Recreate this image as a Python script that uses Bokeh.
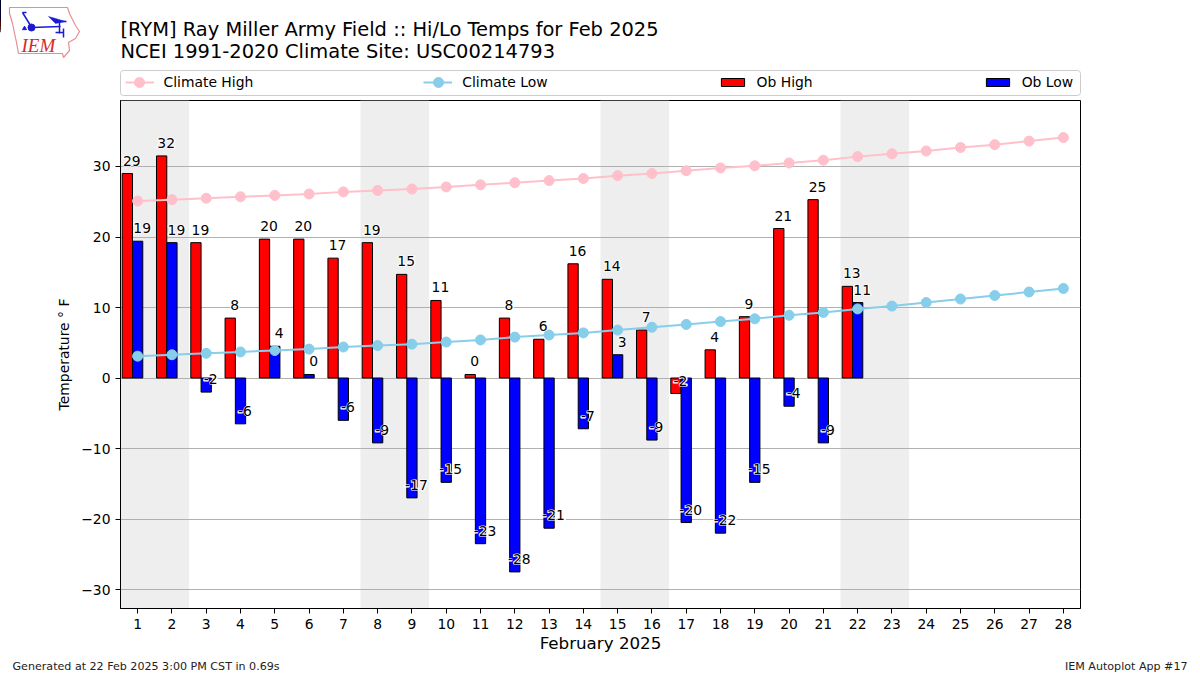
from bokeh.plotting import figure
from bokeh.models import (BoxAnnotation, ColumnDataSource, Label, Legend, LegendItem, FixedTicker, Range1d)
from bokeh.core.properties import value
from bokeh.embed import file_html
from bokeh.resources import INLINE

days = list(range(1, 29))
ob_days = list(range(1, 23))
ob_high = [29, 31.5, 19.2, 8.5, 19.7, 19.7, 17, 19.2, 14.7, 11, 0.5, 8.5, 5.5, 16.2, 14, 6.8, -2.2, 4, 8.7, 21.2, 25.3, 13]
ob_low = [19.4, 19.2, -2, -6.5, 4.5, 0.5, -6, -9.2, -17, -14.8, -23.5, -27.5, -21.3, -7.2, 3.3, -8.8, -20.5, -22, -14.8, -4, -9.2, 10.7]
high_labels = ["29", "32", "19", "8", "20", "20", "17", "19", "15", "11", "0", "8", "6", "16", "14", "7", "-2", "4", "9", "21", "25", "13"]
low_labels = ["19", "19", "-2", "-6", "4", "0", "-6", "-9", "-17", "-15", "-23", "-28", "-21", "-7", "3", "-9", "-20", "-22", "-15", "-4", "-9", "11"]
clim_high = [25.1, 25.3, 25.5, 25.7, 25.9, 26.1, 26.4, 26.6, 26.8, 27.1, 27.4, 27.7, 28.0, 28.3, 28.7, 29.0, 29.4, 29.8, 30.1, 30.5, 30.9, 31.4, 31.8, 32.2, 32.7, 33.1, 33.6, 34.1]
clim_low = [3.1, 3.3, 3.5, 3.7, 3.9, 4.1, 4.4, 4.6, 4.8, 5.1, 5.4, 5.8, 6.1, 6.4, 6.8, 7.2, 7.6, 8.0, 8.4, 8.9, 9.3, 9.8, 10.2, 10.7, 11.2, 11.7, 12.2, 12.7]
weekend_starts = [1, 8, 15, 22]
y_ticks = [-30, -20, -10, 0, 10, 20, 30]
title_lines = ["[RYM] Ray Miller Army Field :: Hi/Lo Temps for Feb 2025", "NCEI 1991-2020 Climate Site: USC00214793"]
x_title = "February 2025"
y_title = "Temperature ° F"
footer_left = "Generated at 22 Feb 2025 3:00 PM CST in 0.69s"
footer_right = "IEM Autoplot App #17"

FONT = "DejaVu Sans"
W, H = 1200, 675
L, T = 120, 100
FW, FH = 960, 508
YMIN, YMAX = -32.69, 39.36

# full-page backdrop: page furniture in pixel coordinates
bg = figure(width=W, height=H, output_backend="svg", toolbar_location=None,
            x_range=Range1d(0, W), y_range=Range1d(H, 0),
            min_border=0, x_axis_location=None, y_axis_location=None, outline_line_color=None)
bg.grid.visible = False


def label(text, x, y, size, align="left", color="black", font=FONT, style="normal"):
    bg.add_layout(Label(x=x, y=y, text=text, text_font=font, text_font_size=size,
                        text_align=align, text_baseline="alphabetic", text_color=color,
                        text_font_style=style))


label(title_lines[0], 120, 29, "19.45px")
label(title_lines[1], 120, 51, "19.45px")
label(footer_left, 12, 666, "11.1px", color="#222222")
label(footer_right, 1187, 666, "11.1px", align="right", color="#222222")

# logo
bg.patch([9, 67, 69, 75, 79, 75, 68, 69, 63, 62, 18, 16, 12, 9],
         [7, 7, 13, 25, 31, 38, 42, 50, 57, 53, 53, 42, 23, 13],
         fill_color="white", line_color="#e58f94", line_width=1.2)
BLUE = "#1a1ad6"
bg.patch([48, 55, 65, 55], [16, 18, 21, 23], fill_color=BLUE, line_color=BLUE, line_width=0.5)
bg.scatter([31], [27], size=7, fill_color=BLUE, line_color=BLUE)
bg.multi_line([[31, 60], [55, 66], [59, 59], [63, 63], [55, 63], [22, 30], [22, 26]],
              [[27, 26], [21, 21], [21, 33], [28, 37], [32, 32], [12, 25], [12, 12]],
              line_color=BLUE, line_width=1.5)
bg.scatter([24], [28], size=4, marker="triangle", fill_color=BLUE, line_color=BLUE)
label("IEM", 21, 45, "19px", color="#d42a2a", font="Liberation Serif", style="italic")

# legend frame and keys (the legend lies above the chart's frame, on the backdrop)
bg.add_layout(BoxAnnotation(left=120, right=1080, top=70, bottom=95, border_radius=3,
                            fill_color="white", fill_alpha=1, line_color="#cccccc", line_width=1, line_alpha=1))
off_days = [-100 - d for d in days]
off_ob = [-100 - d for d in ob_days]
k_h = bg.line(off_days, clim_high, line_color="pink", line_width=2)
k_l = bg.line(off_days, clim_low, line_color="skyblue", line_width=2)
k_oh = bg.vbar(x=off_ob, width=0.3, top=ob_high, bottom=0, fill_color="red", line_color="black")
k_ol = bg.vbar(x=off_ob, width=0.3, top=ob_low, bottom=0, fill_color="blue", line_color="black")
legend = Legend(items=[LegendItem(label="Climate High", renderers=[k_h]),
                       LegendItem(label="Climate Low", renderers=[k_l]),
                       LegendItem(label="Ob High", renderers=[k_oh]),
                       LegendItem(label="Ob Low", renderers=[k_ol])],
                orientation="horizontal", location=(124.5, H - 90), spacing=170,
                glyph_width=29, glyph_height=10, label_standoff=10,
                label_text_font=FONT, label_text_font_size="13.9px", label_text_color="black",
                label_height=10, padding=6, margin=0,
                border_line_color=None, background_fill_alpha=0)
bg.add_layout(legend, "center")
# legend's own marker would be tiny at this key height, so the keys get full-size dots
bg.scatter([139], [82], size=10, fill_color="pink", line_color="pink", level="overlay")
bg.scatter([438], [82], size=10, fill_color="skyblue", line_color="skyblue", level="overlay")

# the chart, laid over the backdrop
p = figure(width=W, height=H, output_backend="svg", toolbar_location=None,
           x_range=Range1d(0.5, 28.5), y_range=Range1d(YMIN, YMAX),
           min_border_left=L, min_border_right=W - L - FW,
           min_border_top=T, min_border_bottom=H - T - FH,
           background_fill_alpha=0, border_fill_alpha=0,
           styles={"position": "absolute", "left": "0", "top": "0"})
p.xgrid.visible = False
p.ygrid.grid_line_color = "#b0b0b0"
p.ygrid.grid_line_width = 1
p.ygrid.ticker = FixedTicker(ticks=y_ticks)
p.outline_line_color = "black"
p.outline_line_width = 1
p.xaxis.ticker = FixedTicker(ticks=days)
p.yaxis.ticker = FixedTicker(ticks=y_ticks)
p.yaxis.major_label_overrides = {t: str(t).replace("-", "\u2212") for t in y_ticks}
for ax in (p.xaxis[0], p.yaxis[0]):
    ax.axis_line_color = "black"
    ax.major_tick_line_color = "black"
    ax.major_tick_in = 0
    ax.major_tick_out = 5
    ax.minor_tick_line_color = None
    ax.major_label_text_font = FONT
    ax.major_label_text_font_size = "13.9px"
    ax.major_label_text_color = "black"
    ax.axis_label_text_font = FONT
    ax.axis_label_text_font_style = "normal"
    ax.axis_label_text_color = "black"
p.xaxis.axis_label = x_title
p.xaxis.axis_label_text_font_size = "16.7px"
p.xaxis.axis_label_standoff = 1
p.yaxis.axis_label = y_title
p.yaxis.axis_label_text_font_size = "13.9px"
p.yaxis.axis_label_standoff = 6

# weekend shading
p.quad(left=[d - 0.5 for d in weekend_starts], right=[d + 1.5 for d in weekend_starts],
       bottom=YMIN, top=YMAX, fill_color="#eeeeee", line_color=None, level="image")

src_h = ColumnDataSource(dict(x=[d - 0.3 for d in ob_days], y=ob_high, t=high_labels))
src_l = ColumnDataSource(dict(x=ob_days, y=ob_low, t=low_labels))
p.vbar(x="x", top="y", bottom=0, width=0.3, source=src_h, fill_color="red", line_color="black", line_width=1)
p.vbar(x="x", top="y", bottom=0, width=0.3, source=src_l, fill_color="blue", line_color="black", line_width=1)

p.line(days, clim_high, line_color="pink", line_width=2)
p.scatter(days, clim_high, size=10, fill_color="pink", line_color="pink")
p.line(days, clim_low, line_color="skyblue", line_width=2)
p.scatter(days, clim_low, size=10, fill_color="skyblue", line_color="skyblue")

# white halo layer, then the dark text
for color, outline, weight in (("white", "white", "bold"), ("black", None, "normal")):
    for s in (src_h, src_l):
        p.text(x="x", y="y", text="t", source=s, x_offset=4.5, y_offset=-13,
               text_align="center", text_baseline="alphabetic",
               text_font=value(FONT), text_font_size="13.9px", text_color=color,
               text_font_style=weight, text_outline_color=outline)

open("out.html", "w").write(file_html((bg, p), INLINE))
